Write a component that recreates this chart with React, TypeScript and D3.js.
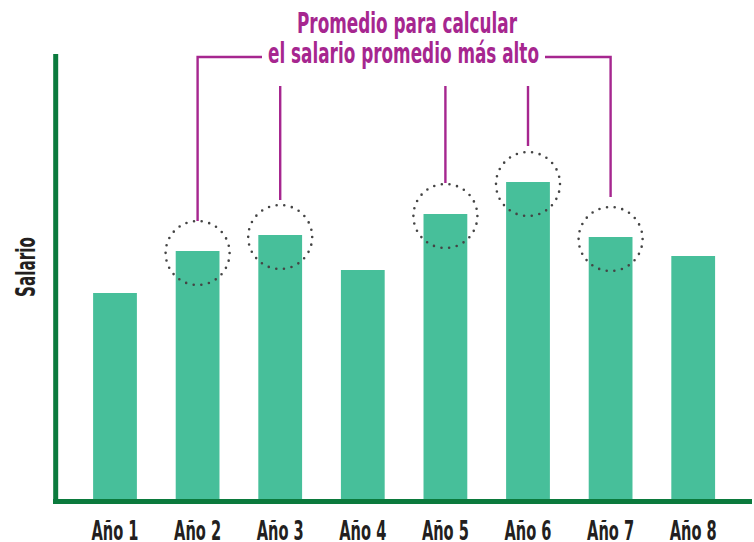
import React from 'react';
import * as d3 from 'd3';

const years = ['Año 1', 'Año 2', 'Año 3', 'Año 4', 'Año 5', 'Año 6', 'Año 7', 'Año 8'];
const salaries = [208, 250, 266, 231, 287, 319, 264, 245];
const highlighted = ['Año 2', 'Año 3', 'Año 5', 'Año 6', 'Año 7'];
const titleLines = ['Promedio para calcular', 'el salario promedio más alto'];
const yLabel = 'Salario';

const W = 754;
const H = 542;
const FONT = "'Liberation Sans Narrow', 'DejaVu Sans Condensed', 'Roboto', sans-serif";
const BAR = '#47bf9a';
const AXIS = '#0b7a3d';
const MAGENTA = '#a6268f';
const DOTS = '#444';

const App = () => {
  const x = d3.scaleBand<string>()
    .domain(years)
    .range([73.7, 734.5])
    .paddingInner(0.47)
    .paddingOuter(0.235);

  const y = d3.scaleLinear().domain([0, 450]).range([501, 51]);

  const cx = (d: string) => (x(d) as number) + x.bandwidth() / 2;
  const r = 32;
  const dotGap = (2 * Math.PI * r) / 26;

  // brackets: first and last highlighted bars hang from the title line,
  // the others start a bit lower
  const first = highlighted[0];
  const last = highlighted[highlighted.length - 1];
  const bracketY = 57;
  const innerTop = 86;
  const gaps: Record<string, number> = { 'Año 2': 0, 'Año 3': 5, 'Año 5': 1, 'Año 6': 6, 'Año 7': 10 };

  const circleTop = (d: string) => y(salaries[years.indexOf(d)]) + 2 - r;

  return (
    <svg width={W} height={H} style={{ position: 'absolute', left: 0, top: 0 }} fontFamily={FONT}>
      {years.map((d, i) => (
        <rect key={d} x={x(d)} y={y(salaries[i])} width={x.bandwidth()} height={y(0) - y(salaries[i])} fill={BAR} />
      ))}

      {/* axes */}
      <line x1={55.7} x2={55.7} y1={54} y2={504} stroke={AXIS} strokeWidth={5} />
      <line x1={53} x2={752} y1={501.6} y2={501.6} stroke={AXIS} strokeWidth={5} />

      {years.map((d) => (
        <text key={d} x={cx(d)} y={540} textAnchor="middle" fontSize={27} fontWeight="bold" fill="#231f20"
          textLength={47} lengthAdjust="spacingAndGlyphs">{d}</text>
      ))}

      <text x={35} y={267} transform="rotate(-90 35 267)" textAnchor="middle" fontSize={27} fontWeight="bold"
        fill="#231f20" textLength={60} lengthAdjust="spacingAndGlyphs">{yLabel}</text>

      {/* dotted circles */}
      {highlighted.map((d) => (
        <circle key={d} cx={cx(d)} cy={y(salaries[years.indexOf(d)]) + 2} r={r} fill="none" stroke={DOTS}
          strokeWidth={2.6} strokeLinecap="round" strokeDasharray={`0 ${dotGap}`} />
      ))}

      {/* magenta lines */}
      <path d={`M262,${bracketY}H${cx(first)}V${circleTop(first) - gaps[first]}`} fill="none" stroke={MAGENTA} strokeWidth={2.4} />
      <path d={`M545,${bracketY}H${cx(last)}V${circleTop(last) - gaps[last]}`} fill="none" stroke={MAGENTA} strokeWidth={2.4} />
      {highlighted.slice(1, -1).map((d) => (
        <line key={d} x1={cx(d)} x2={cx(d)} y1={innerTop} y2={circleTop(d) - gaps[d]} stroke={MAGENTA} strokeWidth={2.4} />
      ))}

      <text x={407} y={33} textAnchor="middle" fontSize={28} fontWeight="bold" fill={MAGENTA}
        textLength={220} lengthAdjust="spacingAndGlyphs">{titleLines[0]}</text>
      <text x={403.5} y={63} textAnchor="middle" fontSize={28} fontWeight="bold" fill={MAGENTA}
        textLength={271} lengthAdjust="spacingAndGlyphs">{titleLines[1]}</text>
    </svg>
  );
};

export default App;
